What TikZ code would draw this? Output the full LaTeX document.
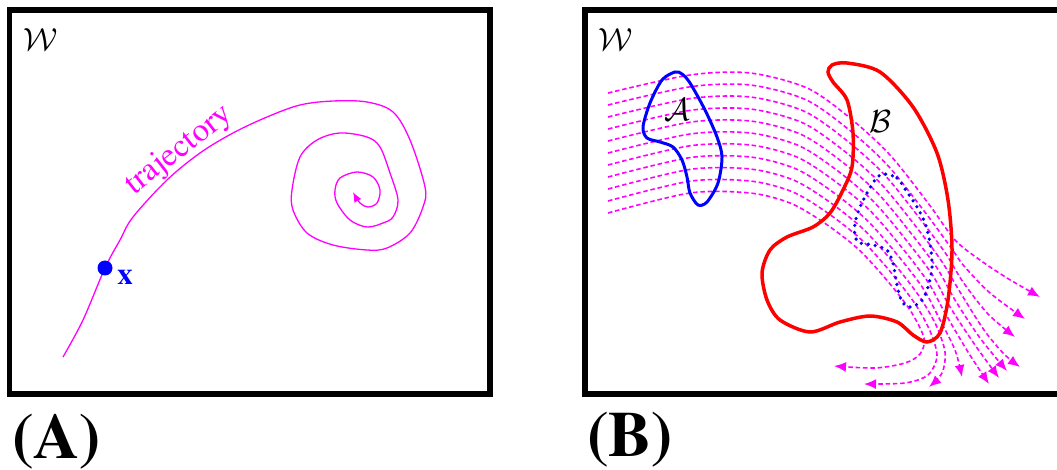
\RequirePackage{fix-cm}
\documentclass[tikz,border=0pt]{standalone}
\usepackage[T1]{fontenc}
\newcommand{\tms}{\fontencoding{T1}\fontfamily{ptm}\selectfont}
\usetikzlibrary{arrows.meta}
\definecolor{mag}{RGB}{255,0,255}
\definecolor{bl}{RGB}{0,0,255}
\definecolor{rd}{RGB}{255,0,0}
\tikzset{
  frame/.style={line width=5.5pt, line cap=rect},
  flow/.style={mag, line width=1.6pt, dash pattern=on 4.5pt off 2.8pt, -{Latex[length=12pt,width=10pt]}},
  traj/.style={mag, line width=1.3pt},
  calig/.style={font=\fontsize{32}{36}\selectfont, inner sep=0pt},
  panellabel/.style={font=\tms\bfseries\fontsize{64}{70}\selectfont, inner sep=0pt, anchor=base west},
}
\begin{document}
\begin{tikzpicture}[x=1pt,y=-1pt]
\useasboundingbox (0,0) rectangle (1057,470);
% ---------- Panel A ----------
\draw[frame] (9.5,10) rectangle (490,394);
\node[calig] (wa) at (41,40) {$\mathcal{W}$};
\draw[traj, -{Latex[length=10pt,width=8pt]}] plot[smooth, tension=0.55] coordinates {
 (63,357) (83,320) (105,268) (120,240) (133,217) (167,180) (200,153) (233,133)
 (267,117) (300,105) (333,101) (367,102) (393,112) (410,140) (425,187) (423,207)
 (410,233) (387,248) (367,250) (333,245) (307,233) (293,210) (292,190) (300,157)
 (317,140) (340,133) (367,137) (380,147) (390,173) (398,200) (393,217) (383,223)
 (367,227) (350,220) (337,203) (335,190) (340,178) (357,172) (373,177) (380,190)
 (377,203) (368,207) (360,203) (353,192)};
\node[mag, font=\tms\fontsize{33}{38}\selectfont, inner sep=1pt, anchor=south, rotate=38] (trj) at (189,163) {trajectory};
\fill[bl] (105,268) circle (7.5);
\node[bl, font=\tms\bfseries\fontsize{31}{34}\selectfont, inner sep=0pt] (xl) at (125,277) {x};
\node[panellabel] (la) at (12,458) {(A)};
% ---------- Panel B ----------
\draw[frame] (1060,10) -- (585,10) -- (585,394) -- (1060,394);
\node[calig] (wb) at (616,40) {$\mathcal{W}$};
% flow lines
\draw[flow] plot[smooth] coordinates {(608,93) (690,75) (750,73) (807,88) (850,118) (890,155) (928,203) (955,240) (980,260) (1007,278) (1040,297)};
\draw[flow] plot[smooth] coordinates {(608,105) (690,86.8) (750,85) (805.3,99.5) (847.3,128.4) (886.7,164.3) (923.7,210.5) (950.5,247) (964,266) (990,293) (1025,319)};
\draw[flow] plot[smooth] coordinates {(608,117) (690,98.6) (750,97) (803.6,111) (844.6,138.8) (883.4,173.6) (919.4,218) (946,254) (963,282) (988,314) (1015,337)};
\draw[flow] plot[smooth] coordinates {(608,129) (690,110.4) (750,109) (801.9,122.5) (841.9,149.2) (880.1,182.9) (915.1,225.5) (941.5,261) (960,292) (984,330) (1004,354) (1020,367)};
\draw[flow] plot[smooth] coordinates {(608,141) (690,122.2) (750,121) (800.2,134) (839.2,159.6) (876.8,192.2) (910.8,233) (937,268) (955,300) (980,338) (1007,371)};
\draw[flow] plot[smooth] coordinates {(608,153) (690,134) (750,133) (798.5,145.5) (836.5,170) (873.5,201.5) (906.5,240.5) (932.5,275) (950,307) (975,345) (999,378)};
\draw[flow] plot[smooth] coordinates {(608,165) (690,145.8) (750,145) (796.8,157) (833.8,180.4) (870.2,210.8) (902.2,248) (928,282) (945,313) (968,352) (989,384)};
\draw[flow] plot[smooth] coordinates {(608,177) (690,157.6) (750,157) (795.1,168.5) (831.1,190.8) (866.9,220.1) (897.9,255.5) (923.5,289) (940,320) (955,350) (962,377)};
\draw[flow] plot[smooth] coordinates {(608,189) (690,169.4) (750,169) (793.4,180) (828.4,201.2) (863.6,229.4) (893.6,263) (919,296) (936,325) (945,352) (942,373) (929,387)};
\draw[flow] plot[smooth] coordinates {(608,201) (690,181.2) (750,181) (791.7,191.5) (825.7,211.6) (860.3,238.7) (889.3,270.5) (914.5,303) (930,331) (937,356) (928,375) (905,383) (864,384)};
\draw[flow] plot[smooth] coordinates {(608,213) (690,193) (750,193) (790,203) (823,222) (857,248) (885,278) (910,310) (924,338) (920,354) (905,363) (875,368) (834,366)};
% region A
\draw[bl, line width=3pt] plot[smooth cycle] coordinates {
 (675,72) (662,80) (650,103) (643,127) (647,138) (660,142) (673,147) (682,160)
 (687,177) (690,193) (698,205) (707,202) (718,183) (722,157) (717,137) (705,110)
 (690,83) (682,74)};
\node[calig] (na) at (677,110) {$\mathcal{A}$};
% region B
\draw[rd, line width=3.5pt] plot[smooth cycle] coordinates {
 (828,72) (832,65) (847,63) (880,72) (913,107) (937,153) (948,200) (952,250)
 (948,300) (940,333) (927,342) (913,335) (897,322) (870,316) (840,322) (810,332)
 (780,320) (767,300) (762,273) (770,250) (787,237) (813,227) (830,213) (843,190)
 (852,167) (853,133) (847,100) (833,82)};
\node[calig] (nb) at (880,122) {$\mathcal{B}$};
% dotted inner region
\draw[bl, line width=3.6pt, line cap=round, dash pattern=on 0pt off 7pt] plot[smooth cycle] coordinates {
 (883,174) (897,178) (907,192) (917,207) (925,223) (930,243) (932,267) (928,287)
 (922,300) (912,307) (905,305) (900,297) (896,280) (893,263) (887,250) (873,245)
 (860,243) (855,237) (855,223) (860,207) (867,193) (875,180)};
\node[panellabel] (lb) at (587,456) {(B)};
\end{tikzpicture}
\end{document}
